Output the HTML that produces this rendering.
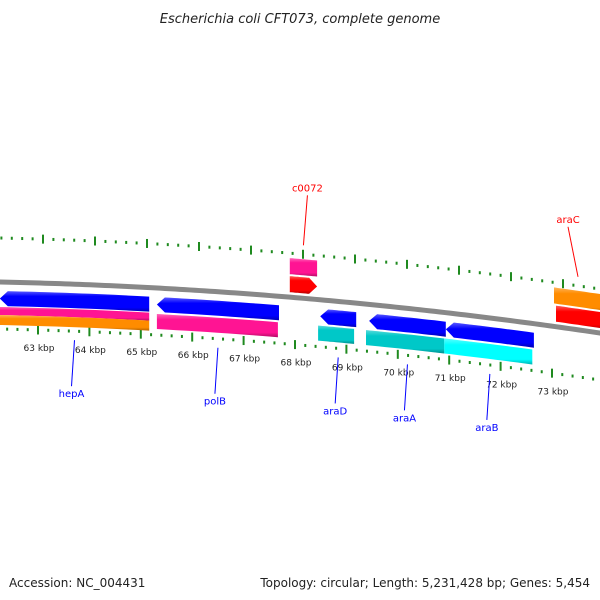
<!DOCTYPE html>
<html><head><meta charset="utf-8"><style>
body{margin:0;background:#fff;}
svg{display:block;font-family:"DejaVu Sans","Liberation Sans",sans-serif;}
</style></head><body>
<svg id="map" width="600" height="600" viewBox="0 0 600 600">
<defs>
<linearGradient id="shade" x1="0" y1="0" x2="0" y2="1">
<stop offset="0" stop-color="#fff" stop-opacity="0.35"/>
<stop offset="0.25" stop-color="#fff" stop-opacity="0.0"/>
<stop offset="0.8" stop-color="#000" stop-opacity="0.0"/>
<stop offset="1" stop-color="#000" stop-opacity="0.3"/>
</linearGradient>
</defs>
<text x="300" y="23" text-anchor="middle" font-size="13" font-style="italic" fill="#222">Escherichia coli CFT073, complete genome</text>
<text x="9" y="587" font-size="12" fill="#222">Accession: NC_004431</text>
<text x="590" y="587" text-anchor="end" font-size="12" fill="#222">Topology: circular; Length: 5,231,428 bp; Genes: 5,454</text>
<g id="ticks"></g>
<path id="backbone" fill="none" stroke="#888" stroke-width="5"></path>
<g id="features"></g>
<g id="labels"></g>
</svg>
<script>
// data (kbp)
const geneNames = ["hepA","polB","c0072","araD","araA","araB","araC"];
const geneStart = [62.22, 65.27, 67.85, 68.44, 69.39, 70.88, 73.02];
const geneEnd   = [65.12, 67.64, 68.38, 69.14, 70.88, 72.59, 74.2];
const geneStrand = [-1,-1,1,-1,-1,-1,1];
// secondary (COG-like) blocks
const blockStart = [62.0, 62.0, 65.27, 67.85, 68.40, 69.33, 70.85, 72.98];
const blockEnd   = [65.12, 65.12, 67.62, 68.38, 69.10, 70.85, 72.56, 74.2];
const blockSub   = ["top","bot","full","full","full","full","full","full"];
const blockSide  = [-1,-1,-1,1,-1,-1,-1,1];
const blockColor = ["#ff1493","#ff8c00","#ff1493","#ff1493","#00c8c8","#00c8c8","#00ffff","#ff8c00"];
const labelKbp = [63,64,65,66,67,68,69,70,71,72,73];
const labelText = labelKbp.map(k=>k+" kbp");
const calloutPos = [0.5,0.5,0.5,0.5,0.5,0.5,0.5];

const NS="http://www.w3.org/2000/svg";
function f(x){return 282+0.0217*x+1.056e-4*x*x;}
function xF(k){return 40+(k-63)*51.5;}
function xUp(k){return 43+(k-63)*52;}
function xLo(k){return 38+(k-63)*51.4;}
function mk(tag,attrs,parent){const e=document.createElementNS(NS,tag);for(const a in attrs)e.setAttribute(a,attrs[a]);parent.appendChild(e);return e;}

let d="";for(let x=-10;x<=610;x+=5){d+=(x===-10?"M":"L")+x+","+f(x).toFixed(2);}
document.getElementById("backbone").setAttribute("d",d);

const tg=document.getElementById("ticks");
for(let i=0;i<=75;i++){
  const k=60.6+i*0.2;const major=Math.abs(k-Math.round(k))<0.01;const len=major?9:3;
  let x=xUp(k);
  if(x>-5&&x<605){const y=f(x)-44;
    const t=mk("line",{x1:x,y1:y-len/2,x2:x,y2:y+len/2,stroke:"#1f8a1f","stroke-width":2},tg);
    }
  x=xLo(k);
  if(x>-5&&x<605){const y=f(x)+47;
    const t=mk("line",{x1:x,y1:y-len/2,x2:x,y2:y+len/2,stroke:"#1f8a1f","stroke-width":2},tg);
    }
}
labelKbp.forEach((k,i)=>{const x=xLo(k)+1;const t=mk("text",{x:x,y:f(x)+68,"text-anchor":"middle","font-size":"9",fill:"#222"},tg);
  t.textContent=labelText[i];});

function band(x1,x2,o1,o2,arrow){
  const pts=[];const ah=8;const mid=(o1+o2)/2;
  const a1=arrow===-1?x1+ah:x1, a2=arrow===1?x2-ah:x2;
  const n=12;
  for(let i=0;i<=n;i++){const x=a1+(a2-a1)*i/n;pts.push([x,f(x)+o1]);}
  if(arrow===1)pts.push([x2,f(x2)+mid]);
  for(let i=n;i>=0;i--){const x=a1+(a2-a1)*i/n;pts.push([x,f(x)+o2]);}
  if(arrow===-1)pts.push([x1,f(x1)+mid]);
  return pts.map(p=>p[0].toFixed(1)+","+p[1].toFixed(1)).join(" ");
}
const fg=document.getElementById("features");
blockStart.forEach((s,i)=>{
  const x1=xF(s),x2=xF(blockEnd[i]);let o1,o2;
  if(blockSide[i]<0){o1=26;o2=41;}else{o1=-39;o2=-23;}
  if(blockSub[i]==="top"){o1=25;o2=33;}if(blockSub[i]==="bot"){o1=33;o2=43;}
  const p=mk("polygon",{points:band(x1,x2,o1,o2,0),fill:blockColor[i]},fg);
  
  const q=mk("polygon",{points:band(x1,x2,o1,o2,0),fill:"url(#shade)"},fg);
  
});
geneNames.forEach((g,i)=>{
  const x1=xF(geneStart[i]),x2=xF(geneEnd[i]);const s=geneStrand[i];
  const o1=s<0?9:-21, o2=s<0?24:-5;const col=s<0?"#0000ff":"#ff0000";
  const p=mk("polygon",{points:band(x1,x2,o1,o2,s),fill:col},fg);
  
  const q=mk("polygon",{points:band(x1,x2,o1,o2,s),fill:"url(#shade)"},fg);
  
  const xm=x1+(Math.min(x2,600)-x1)*calloutPos[i];
  const lg=document.getElementById("labels");
  if(s<0){const xa=Math.max(xm,70);const y0=f(xa)+56;
    const l=mk("line",{x1:xa,y1:y0,x2:xa-3,y2:y0+46,stroke:"#0000ff","stroke-width":1},lg);
    
    const t=mk("text",{x:xa-3,y:y0+57,"text-anchor":"middle","font-size":"10",fill:"#0000ff"},lg);
    t.textContent=g;
  }else{const xa=Math.min(xm,580);const y0=f(xa)-53;const dx=g==="araC"?-10:4;
    const l=mk("line",{x1:xa,y1:y0,x2:xa+dx,y2:y0-50,stroke:"#ff0000","stroke-width":1},lg);
    
    const t=mk("text",{x:xa+dx,y:y0-54,"text-anchor":"middle","font-size":"10",fill:"#ff0000"},lg);
    t.textContent=g;
  }
});
</script>
</body></html>
